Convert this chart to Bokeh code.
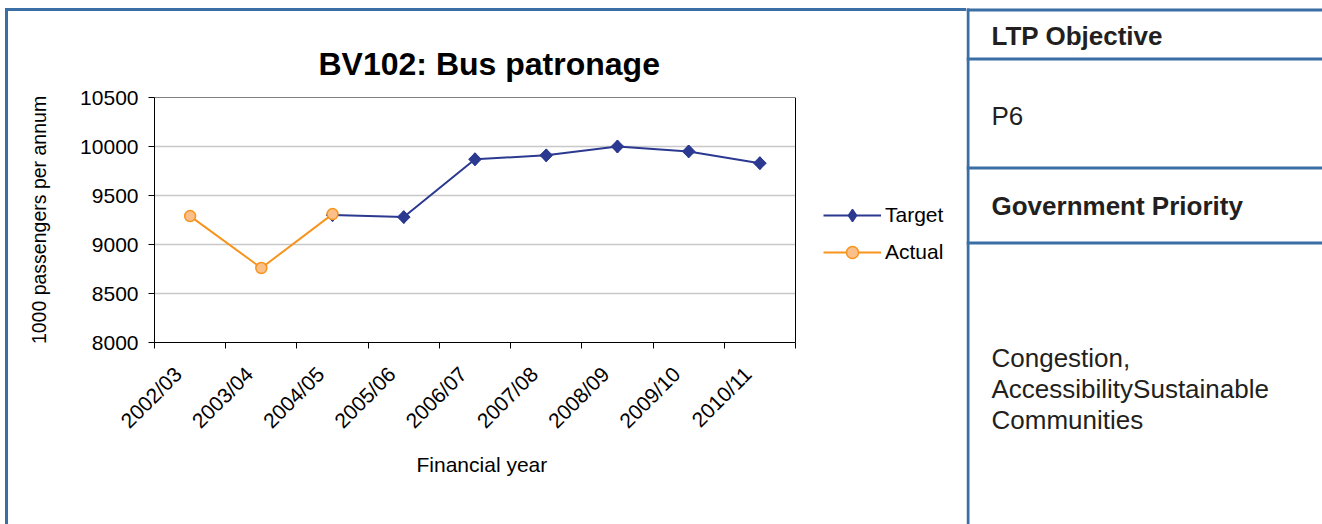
from bokeh.plotting import figure
from bokeh.layouts import column, row
from bokeh.models import FixedTicker, Range1d, Legend, LegendItem, Title, Spacer
from bokeh.core.properties import value
from bokeh.embed import file_html
from bokeh.resources import INLINE
import math

# ---- data ----
years = ["2002/03", "2003/04", "2004/05", "2005/06", "2006/07",
         "2007/08", "2008/09", "2009/10", "2010/11"]
target_years = ["2004/05", "2005/06", "2006/07", "2007/08", "2008/09", "2009/10", "2010/11"]
target_values = [9300, 9280, 9870, 9910, 10000, 9950, 9830]
actual_years = ["2002/03", "2003/04", "2004/05"]
actual_values = [9290, 8760, 9310]
y_ticks = [8000, 8500, 9000, 9500, 10000, 10500]

table_headers = ["LTP Objective", "Government Priority"]
table_values = ["P6", "Congestion,\nAccessibilitySustainable\nCommunities"]

BLUE = "#3a6ea5"
NAVY = "#2b3990"
ORANGE = "#f7941d"
ORANGE_FILL = "#fbbf8a"
TXT = "#231f20"
FONT = "Liberation Sans"

pos = {y: i + 1 for i, y in enumerate(years)}
tx = [pos[y] for y in target_years]
ax_ = [pos[y] for y in actual_years]
x_lo, x_hi = 0.5, len(years) + 0.5
y_lo, y_hi = y_ticks[0], y_ticks[-1]

# plot area 641px wide for the categories; frame extended to the right for the legend
PLOT_W, FRAME_W, FRAME_H = 641, 804, 245
x_end = x_lo + (x_hi - x_lo) * FRAME_W / PLOT_W
LABEL_SHIFT = 0.17  # tilted labels end a little left of the category centre

# ---- chart ----
p = figure(frame_width=FRAME_W, frame_height=FRAME_H, toolbar_location=None,
           output_backend="svg",
           x_range=Range1d(x_lo, x_end), y_range=Range1d(y_lo, y_hi),
           min_border_left=146, min_border_right=8, min_border_top=86, min_border_bottom=182,
           frame_align=False)
p.border_fill_color = "white"
p.outline_line_color = None
p.add_layout(Title(text="BV102: Bus patronage", text_font=FONT, text_font_size="32px",
                   text_font_style="bold", text_color="black", align="left", offset=164,
                   standoff=31), "above")

p.xgrid.visible = False
p.ygrid.visible = False
grid_y = y_ticks[1:-1]
p.segment(x0=[x_lo] * len(grid_y), y0=grid_y, x1=[x_hi] * len(grid_y), y1=grid_y,
          line_color="#c8c8c8", line_width=1.5)
p.quad(left=[x_lo], right=[x_hi], bottom=[y_lo], top=[y_hi], fill_color=None,
       line_color="black", line_width=1)

r_tl = p.line(tx, target_values, line_color=NAVY, line_width=2)
# narrow diamond (hidden under the rotated squares) gives the legend its diamond swatch
r_leg = p.scatter(tx, target_values, marker="diamond", size=12, fill_color=NAVY,
                  line_color=NAVY, line_width=1.5)
r_tm = p.scatter(tx, target_values, marker="square", size=9, angle=math.pi / 4,
                 fill_color=NAVY, line_color=NAVY)
r_al = p.line(ax_, actual_values, line_color=ORANGE, line_width=2)
r_am = p.scatter(ax_, actual_values, marker="circle", size=11,
                 fill_color=ORANGE_FILL, line_color=ORANGE, line_width=1.5)

xa = p.xaxis[0]
xa.bounds = (x_lo, x_hi)
label_pos = [pos[y] - LABEL_SHIFT for y in years]
xa.ticker = FixedTicker(ticks=label_pos,
                        minor_ticks=[x_lo + i for i in range(len(years) + 1)])
xa.major_label_overrides = {lp: y for lp, y in zip(label_pos, years)}
xa.major_tick_line_color = None
xa.major_tick_out = 6
xa.major_tick_in = 0
xa.minor_tick_line_color = "black"
xa.minor_tick_out = 6
xa.minor_tick_in = 0
xa.major_label_orientation = math.pi / 4
xa.major_label_standoff = 22
xa.major_label_text_font = FONT
xa.major_label_text_font_size = "21px"
xa.major_label_text_color = "black"
xa.axis_line_color = "black"

p.add_layout(Title(text="Financial year", text_font=FONT, text_font_size="21px",
                   text_font_style="normal", text_color="black", align="left",
                   offset=262, standoff=15), "below")

ya = p.yaxis[0]
ya.ticker = FixedTicker(ticks=y_ticks)
ya.minor_tick_line_color = None
ya.major_tick_out = 6
ya.major_tick_in = 0
ya.major_label_text_font = FONT
ya.major_label_text_font_size = "21px"
ya.major_label_text_color = "black"
ya.major_label_standoff = 10
ya.axis_label = "1000 passengers per annum"
ya.axis_label_text_font = FONT
ya.axis_label_text_font_size = "19.5px"
ya.axis_label_text_font_style = "normal"
ya.axis_label_text_color = "black"
ya.axis_label_standoff = 27
ya.axis_line_color = "black"

legend = Legend(items=[LegendItem(label="Target", renderers=[r_tl, r_leg]),
                       LegendItem(label="Actual", renderers=[r_al, r_am])],
                location=(669, 75), orientation="vertical")
legend.border_line_color = None
legend.background_fill_alpha = 0
legend.padding = 0
legend.margin = 0
legend.spacing = 7
legend.glyph_width = 58
legend.glyph_height = 30
legend.label_height = 30
legend.label_standoff = 4
legend.label_text_font = FONT
legend.label_text_font_size = "21px"
legend.label_text_color = "black"
p.add_layout(legend, "center")

# ---- table ----
TB_W, TB_H = 356, 524
t = figure(width=TB_W, height=TB_H, toolbar_location=None, output_backend="svg",
           x_range=Range1d(0, TB_W), y_range=Range1d(TB_H, 0), min_border=0,
           x_axis_type=None, y_axis_type=None, frame_align=False)
t.outline_line_color = None
t.grid.visible = False
t.segment(x0=[0, 0, 0, 0], y0=[9.5, 58.5, 167.5, 242.5], x1=[TB_W] * 4,
          y1=[9.5, 58.5, 167.5, 242.5], line_color=BLUE, line_width=3)
t.segment(x0=[1.5], y0=[8], x1=[1.5], y1=[TB_H], line_color=BLUE, line_width=3)
t.text(x=[25, 25], y=[35, 205], text=table_headers, text_font=value(FONT),
       text_font_size="26px", text_font_style="bold", text_color=TXT,
       text_baseline="middle", text_align="left")
t.text(x=[25], y=[115], text=[table_values[0]], text_font=value(FONT),
       text_font_size="26px", text_color=TXT, text_baseline="middle", text_align="left")
t.text(x=[25, 25, 25], y=[357, 388, 419], text=table_values[1].split("\n"),
       text_font=value(FONT), text_font_size="26px", text_color=TXT,
       text_baseline="middle", text_align="left")

top_strip = Spacer(width=966, height=11, styles={
    "background": f"linear-gradient(to right, #ffffff 0 5px, transparent 5px), "
                  f"linear-gradient(to bottom, #ffffff 0 8px, {BLUE} 8px 11px)"})
left_strip = Spacer(width=8, height=513, styles={
    "background": f"linear-gradient(to right, #ffffff 0 5px, {BLUE} 5px 8px)"})

layout = row(column(top_strip, row(left_strip, p, spacing=0), spacing=0), t, spacing=0)

open("out.html", "w").write(file_html(layout, INLINE))
